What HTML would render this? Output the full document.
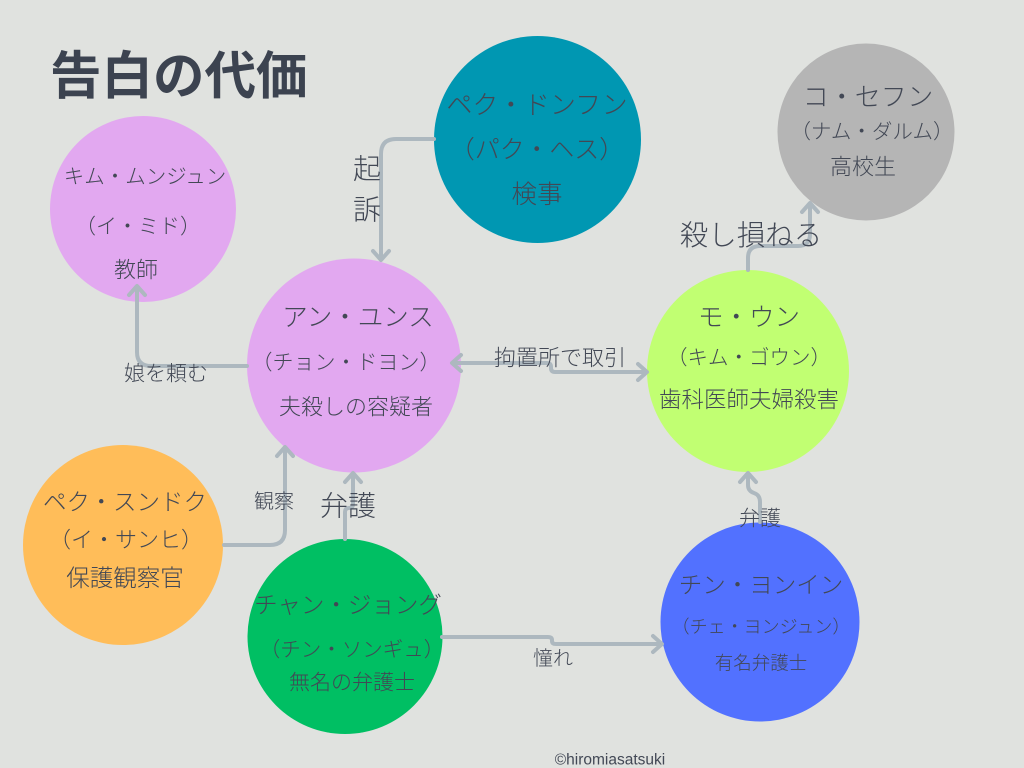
<!DOCTYPE html>
<html>
<head>
<meta charset="utf-8">
<style>
html,body{margin:0;padding:0;width:1024px;height:768px;overflow:hidden;background:#e0e2df;}
svg{display:block;}
text{font-family:"Liberation Sans","Noto Sans CJK JP",sans-serif;fill:#424855;font-weight:300;}
.c{text-anchor:middle;dominant-baseline:central;}
.ln{fill:none;stroke:#adb8bf;stroke-width:4;stroke-linecap:round;stroke-linejoin:round;}
</style>
</head>
<body>
<svg width="1024" height="768" viewBox="0 0 1024 768" xmlns="http://www.w3.org/2000/svg">
<rect x="0" y="0" width="1024" height="768" fill="#e0e2df"/>

<!-- title -->
<text x="50" y="76" font-size="51.5" style="dominant-baseline:central;fill:#3c4350;font-weight:bold">告白の代価</text>

<!-- circles -->
<circle cx="143" cy="209" r="93" fill="#e2a8f0"/>
<circle cx="537.5" cy="139.5" r="103.5" fill="#0097b2"/>
<circle cx="866" cy="132" r="88.5" fill="#b5b5b5"/>
<circle cx="354" cy="365.5" r="107" fill="#e2a8f0"/>
<circle cx="748" cy="371" r="101" fill="#c1ff72"/>
<circle cx="123" cy="545" r="100" fill="#ffbd59"/>
<circle cx="345" cy="636.5" r="97.5" fill="#00bf63"/>
<circle cx="760" cy="622" r="99.5" fill="#5271ff"/>

<!-- connectors -->
<path class="ln" d="M434,139 H396 Q381,139 381,154 V258"/>
<polyline class="ln" points="373,251 381,260 389,251"/>
<path class="ln" d="M247,366 H151 Q137,366 137,352 V288"/>
<polyline class="ln" points="129,295 137,286 145,295"/>
<path class="ln" d="M453,363 H547 Q551,363 551,367 V368 Q551,372 555,372 H645"/>
<polyline class="ln" points="461,355 452,363 461,371"/>
<polyline class="ln" points="638,364 647,372 638,380"/>
<path class="ln" d="M748,270 V258 Q748,246 760,246 H798 Q810,246 810,234 V205"/>
<polyline class="ln" points="802,212 810,203 818,212"/>
<path class="ln" d="M760,522 V502 Q760,495 754,493 Q748,491 748,485 V475"/>
<polyline class="ln" points="740,482 748,473 756,482"/>
<path class="ln" d="M345,539 V512 Q345,508 349,508 Q353,508 353,504 V475"/>
<polyline class="ln" points="345,482 353,473 361,482"/>
<path class="ln" d="M224,545 H270 Q285,545 285,530 V449"/>
<polyline class="ln" points="277,456 285,447 293,456"/>
<path class="ln" d="M442,637 H548 Q552,637 552,640 V641 Q552,644 556,644 H660"/>
<polyline class="ln" points="653,636 662,644 653,652"/>

<!-- connector labels -->
<text class="c" x="367" y="169" font-size="28">起</text>
<text class="c" x="367" y="210" font-size="28">訴</text>
<text class="c" x="166" y="374" font-size="21">娘を頼む</text>
<text class="c" x="560" y="358" font-size="22">拘置所で取引</text>
<text class="c" x="751" y="236" font-size="28.5">殺し損ねる</text>
<text class="c" x="760" y="519" font-size="21">弁護</text>
<text class="c" x="348" y="506" font-size="28">弁護</text>
<text class="c" x="274" y="502" font-size="20">観察</text>
<text class="c" x="553" y="659" font-size="20">憧れ</text>

<!-- Kim -->
<text class="c" x="145" y="177" font-size="20.5">キム・ムンジュン</text>
<text class="c" x="138" y="227" font-size="21">（イ・ミド）</text>
<text class="c" x="136" y="270" font-size="22">教師</text>

<!-- teal -->
<text class="c" x="537" y="105" font-size="26">ペク・ドンフン</text>
<text class="c" x="537" y="150" font-size="25">（パク・ヘス）</text>
<text class="c" x="537" y="195" font-size="25.5">検事</text>

<!-- gray -->
<text class="c" x="868" y="97" font-size="26">コ・セフン</text>
<text class="c" x="872" y="132" font-size="20.5">（ナム・ダルム）</text>
<text class="c" x="863" y="167" font-size="22">高校生</text>

<!-- An -->
<text class="c" x="358" y="318" font-size="25.5">アン・ユンス</text>
<text class="c" x="346" y="363" font-size="21">（チョン・ドヨン）</text>
<text class="c" x="356" y="407" font-size="22">夫殺しの容疑者</text>

<!-- Mo -->
<text class="c" x="749" y="318" font-size="25.5">モ・ウン</text>
<text class="c" x="749" y="358" font-size="20.5">（キム・ゴウン）</text>
<text class="c" x="749" y="400" font-size="22.5">歯科医師夫婦殺害</text>

<!-- Orange -->
<text class="c" x="125" y="502" font-size="23.5">ペク・スンドク</text>
<text class="c" x="126" y="540" font-size="22">（イ・サンヒ）</text>
<text class="c" x="125" y="578" font-size="23.5">保護観察官</text>

<!-- Green -->
<text class="c" x="348" y="605" font-size="23.5">チャン・ジョング</text>
<text class="c" x="352" y="650" font-size="20.5">（チン・ソンギュ）</text>
<text class="c" x="352" y="683" font-size="21">無名の弁護士</text>

<!-- Blue -->
<text class="c" x="761" y="585" font-size="23.5">チン・ヨンイン</text>
<text class="c" x="761" y="627" font-size="18">（チェ・ヨンジュン）</text>
<text class="c" x="761" y="663" font-size="18.5">有名弁護士</text>

<!-- footer -->
<text class="c" x="610" y="760" font-size="15.5">©hiromiasatsuki</text>
</svg>
</body>
</html>
